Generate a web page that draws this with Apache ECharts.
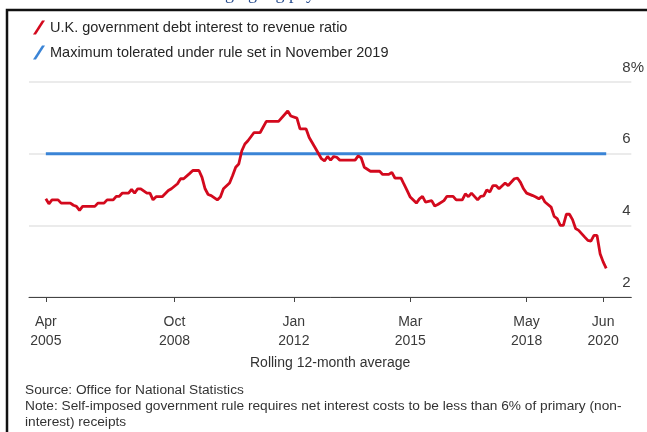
<!DOCTYPE html>
<html>
<head>
<meta charset="utf-8">
<title>U.K. debt interest to revenue ratio</title>
<script src="https://cdn.jsdelivr.net/npm/echarts@6/dist/echarts.min.js"></script>
<style>
  html, body { margin: 0; padding: 0; background: #fff; }
  #main { width: 647px; height: 432px; }
</style>
</head>
<body>
<div id="main"></div>
<script>
// x values are months counted from Apr 2005 (0 = Apr 2005, 182 = Jun 2020)
var months = [0, 1, 2, 4, 5, 8, 9, 10, 11, 12, 16, 17, 19, 20, 22, 23, 24, 25, 27, 28,
  29, 30, 31, 33, 34, 35, 36, 38, 40, 41, 43, 44, 45, 47, 48, 50, 51, 52, 53, 54,
  56, 57, 58, 60, 61, 62, 63, 64, 65, 66, 68, 70, 72, 76, 79, 80, 82, 83, 85, 86,
  88, 90, 91, 92, 93, 94, 95, 96, 101, 102, 103, 104, 106, 109, 110, 112, 113, 114, 116, 117,
  118, 119, 121, 122, 123, 124, 126, 127, 128, 130, 131, 133, 134, 136, 137, 138, 139, 141, 142, 143,
  144, 145, 146, 147, 148, 150, 151, 153, 154, 155, 156, 157, 159, 160, 161, 162, 163, 165, 166, 167,
  168, 169, 170, 171, 172, 173, 174, 176, 177, 178, 179, 180, 181, 182, 183];
var ratio = [4.74, 4.60, 4.71, 4.71, 4.62, 4.62, 4.56, 4.53, 4.42, 4.53, 4.53, 4.62, 4.62, 4.71, 4.71, 4.81, 4.81, 4.90, 4.90, 5.00,
  4.90, 5.02, 5.02, 4.90, 4.90, 4.71, 4.80, 4.80, 4.97, 5.02, 5.16, 5.30, 5.30, 5.45, 5.53, 5.53, 5.34, 5.02, 4.86, 4.83,
  4.71, 4.79, 5.02, 5.18, 5.39, 5.62, 5.71, 6.08, 6.27, 6.36, 6.59, 6.59, 6.90, 6.90, 7.19, 7.05, 6.99, 6.69, 6.69, 6.45,
  6.16, 5.86, 5.80, 5.92, 5.82, 5.92, 5.90, 5.82, 5.82, 5.94, 5.88, 5.62, 5.51, 5.51, 5.42, 5.42, 5.48, 5.32, 5.32, 5.14,
  4.97, 4.79, 4.62, 4.74, 4.81, 4.65, 4.69, 4.54, 4.58, 4.69, 4.81, 4.81, 4.71, 4.71, 4.88, 4.80, 4.90, 4.71, 4.81, 4.82,
  4.99, 4.93, 5.11, 5.11, 5.02, 5.18, 5.11, 5.30, 5.32, 5.20, 5.02, 4.90, 4.83, 4.79, 4.74, 4.81, 4.65, 4.51, 4.25, 4.19,
  4.00, 4.00, 4.31, 4.31, 4.16, 3.91, 3.86, 3.67, 3.58, 3.56, 3.72, 3.72, 3.21, 2.98, 2.80];
var ruleMonths = [0, 183];
var ruleLevel = [6, 6];
var tickMonths = [0, 42, 81, 119, 157, 182];
var tickLabels = ['Apr\n2005', 'Oct\n2008', 'Jan\n2012', 'Mar\n2015', 'May\n2018', 'Jun\n2020'];

var font = "'Liberation Sans', Arial, sans-serif";

function pairs(xs, ys) {
  return xs.map(function (x, i) { return [x, ys[i]]; });
}

var chart = echarts.init(document.getElementById('main'));

var option = {
  backgroundColor: '#fff',
  animation: false,
  textStyle: { fontFamily: font },
  legend: {
    orient: 'vertical',
    left: 28,
    top: 15,
    itemWidth: 12,
    itemHeight: 14,
    itemGap: 10,
    icon: 'path://M0,14L9,0L12,0L3,14Z',
    textStyle: { fontSize: 14.5, color: '#262626', fontFamily: font },
    data: ['U.K. government debt interest to revenue ratio', 'Maximum tolerated under rule set in November 2019']
  },
  grid: { left: 29, right: 14, top: 82, bottom: 135 },
  xAxis: {
    type: 'value',
    min: -5.5,
    max: 191.2,
    splitLine: { show: false },
    axisLine: { lineStyle: { color: '#444', width: 1 } },
    axisTick: { show: true, customValues: tickMonths, length: 5, lineStyle: { color: '#444' } },
    axisLabel: {
      customValues: tickMonths,
      margin: 16,
      fontSize: 14,
      lineHeight: 19,
      color: '#3a3a3a',
      formatter: function (v) {
        var i = tickMonths.indexOf(v);
        return i < 0 ? '' : tickLabels[i];
      }
    },
    name: 'Rolling 12-month average',
    nameLocation: 'middle',
    nameGap: 59,
    nameTextStyle: { fontSize: 14, color: '#333' }
  },
  yAxis: {
    type: 'value',
    position: 'right',
    min: 2,
    max: 8,
    interval: 2,
    axisLine: { show: false },
    axisTick: { show: false },
    splitLine: { lineStyle: { color: '#e4e4e4', width: 1.5 } },
    axisLabel: {
      margin: -9,
      align: 'left',
      verticalAlign: 'bottom',
      padding: [0, 0, 7, 0],
      fontSize: 15,
      color: '#3a3a3a',
      showMinLabel: true,
      showMaxLabel: true,
      formatter: function (v) { return v === 8 ? '8%' : String(v); }
    }
  },
  series: [
    {
      name: 'U.K. government debt interest to revenue ratio',
      type: 'line',
      data: pairs(months, ratio),
      symbol: 'none',
      z: 3,
      color: '#d3091d',
      lineStyle: { color: '#d3091d', width: 2.8 }
    },
    {
      name: 'Maximum tolerated under rule set in November 2019',
      type: 'line',
      data: pairs(ruleMonths, ruleLevel),
      symbol: 'none',
      z: 2,
      color: '#3a84d6',
      lineStyle: { color: '#3a84d6', width: 3 }
    }
  ],
  graphic: [
    // frame of the original screenshot
    {
      type: 'rect',
      shape: { x: 7, y: 10, width: 700, height: 500 },
      style: { fill: 'none', stroke: '#111', lineWidth: 2.5 },
      silent: true
    },
    // cut-off headline above the frame
    {
      type: 'text',
      x: 196,
      y: -15,
      style: { text: 'bringing big payoff', font: "18px 'Liberation Serif', serif", fill: '#2b4f8f' },
      silent: true
    },
    {
      type: 'text',
      x: 25,
      y: 382,
      style: {
        text: 'Source: Office for National Statistics\nNote: Self-imposed government rule requires net interest costs to be less than 6% of primary (non-\ninterest) receipts',
        font: '13.7px ' + font,
        lineHeight: 16,
        fill: '#333'
      },
      silent: true
    }
  ]
};

chart.setOption(option);
</script>
</body>
</html>
